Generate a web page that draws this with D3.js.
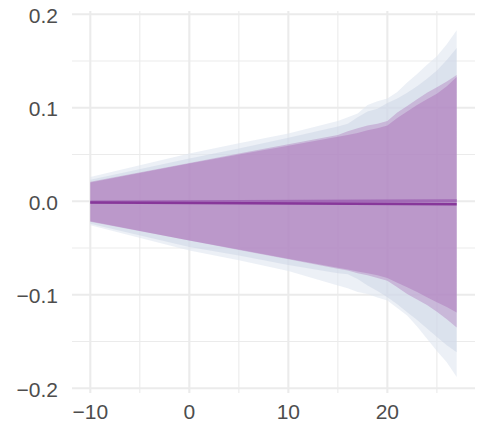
<!DOCTYPE html>
<html>
<head>
<meta charset="utf-8">
<script src="https://cdn.jsdelivr.net/npm/d3@7"></script>
<style>
  html, body { margin: 0; padding: 0; background: #ffffff; }
  svg { display: block; }
</style>
</head>
<body>
<svg id="chart" width="478" height="430"></svg>
<script>
// ---- data ----
const xs = [-10, 0, 5, 10, 15, 16, 17, 18, 19, 20, 21, 22, 23, 24, 25, 26, 27];

// outermost light blue-grey band
const lightLo = [-0.0257, -0.0525, -0.063, -0.0745, -0.090, -0.093, -0.097, -0.099, -0.103, -0.106, -0.114, -0.122, -0.134, -0.147, -0.160, -0.172, -0.188];
const lightHi = [0.026, 0.051, 0.062, 0.0725, 0.086, 0.090, 0.094, 0.103, 0.107, 0.110, 0.117, 0.127, 0.136, 0.146, 0.155, 0.168, 0.183];

// medium blue-grey band
const midLo = [-0.024, -0.049, -0.058, -0.068, -0.077, -0.078, -0.083, -0.090, -0.096, -0.1025, -0.110, -0.1186, -0.127, -0.136, -0.145, -0.154, -0.1615];
const midHi = [0.023, 0.0457, 0.0565, 0.068, 0.080, 0.083, 0.090, 0.096, 0.099, 0.105, 0.110, 0.116, 0.123, 0.131, 0.140, 0.151, 0.164];

// outer purple band
const purOutLo = [-0.022, -0.042, -0.052, -0.062, -0.072, -0.074, -0.077, -0.079, -0.082, -0.085, -0.092, -0.099, -0.105, -0.111, -0.118, -0.126, -0.135];
const purOutHi = [0.021, 0.041, 0.051, 0.061, 0.071, 0.075, 0.078, 0.081, 0.083, 0.086, 0.095, 0.102, 0.109, 0.116, 0.122, 0.128, 0.135];

// inner purple band
const purInLo = [-0.0214, -0.0418, -0.0515, -0.0615, -0.071, -0.073, -0.075, -0.077, -0.079, -0.082, -0.087, -0.092, -0.097, -0.1025, -0.108, -0.113, -0.119];
const purInHi = [0.020, 0.0404, 0.050, 0.0595, 0.069, 0.071, 0.073, 0.076, 0.078, 0.081, 0.089, 0.096, 0.103, 0.109, 0.115, 0.123, 0.133];

// central estimate lines
const lineX = [-10, 27];
const lineA = [-0.0008, 0.0007];
const lineB = [-0.0013, -0.0032];

// ticks
const xMajor = [-10, 0, 10, 20];
const xMinor = [-5, 5, 15, 25];
const yMajor = [-0.2, -0.1, 0.0, 0.1, 0.2];
const yMinor = [-0.15, -0.05, 0.05, 0.15];

// ---- drawing ----
const svg = d3.select("#chart");
const x = d3.scaleLinear().domain([-11.85, 28.85]).range([72, 475]);
const y = d3.scaleLinear().domain([-0.205, 0.2035]).range([393, 11]);

const grid = svg.append("g");
const gridCol = "#ebebeb";
grid.selectAll("line.ymin").data(yMinor).join("line")
  .attr("x1", x.range()[0]).attr("x2", x.range()[1])
  .attr("y1", d => y(d)).attr("y2", d => y(d))
  .attr("stroke", gridCol).attr("stroke-width", 1.1);
grid.selectAll("line.xmin").data(xMinor).join("line")
  .attr("y1", y.range()[0]).attr("y2", y.range()[1])
  .attr("x1", d => x(d)).attr("x2", d => x(d))
  .attr("stroke", gridCol).attr("stroke-width", 1.1);
grid.selectAll("line.ymaj").data(yMajor).join("line")
  .attr("x1", x.range()[0]).attr("x2", x.range()[1])
  .attr("y1", d => y(d)).attr("y2", d => y(d))
  .attr("stroke", gridCol).attr("stroke-width", 2.1);
grid.selectAll("line.xmaj").data(xMajor).join("line")
  .attr("y1", y.range()[0]).attr("y2", y.range()[1])
  .attr("x1", d => x(d)).attr("x2", d => x(d))
  .attr("stroke", gridCol).attr("stroke-width", 2.1);

function band(lo, hi, fill, op) {
  const data = xs.map((xv, i) => ({x: xv, lo: lo[i], hi: hi[i]}));
  const area = d3.area().x(d => x(d.x)).y0(d => y(d.lo)).y1(d => y(d.hi));
  svg.append("path").datum(data).attr("d", area)
    .attr("fill", fill).attr("fill-opacity", op);
}
band(lightLo, lightHi, "#dfe6f0", 0.6);
band(midLo, midHi, "#c8d0e2", 0.45);
band(purOutLo, purOutHi, "#a055ac", 0.3);
band(purInLo, purInHi, "#a055ac", 0.32);

function line(vals, col, w) {
  const data = lineX.map((xv, i) => ({x: xv, v: vals[i]}));
  svg.append("path").datum(data)
    .attr("d", d3.line().x(d => x(d.x)).y(d => y(d.v)))
    .attr("fill", "none").attr("stroke", col).attr("stroke-width", w);
}
line(lineA, "#a26ab6", 3);
line(lineB, "#87379a", 2.6);

const fmtY = d3.format(".1f");
const fmtX = d3.format("d");
svg.append("g").selectAll("text").data(yMajor).join("text")
  .attr("x", 58).attr("y", d => y(d) + 1)
  .attr("text-anchor", "end").attr("dominant-baseline", "central")
  .attr("font-family", "Liberation Sans, Arial, sans-serif").attr("font-size", 21)
  .attr("fill", "#4d4d4d").text(d => fmtY(d));
svg.append("g").selectAll("text").data(xMajor).join("text")
  .attr("x", d => x(d)).attr("y", 411)
  .attr("text-anchor", "middle").attr("dominant-baseline", "central")
  .attr("font-family", "Liberation Sans, Arial, sans-serif").attr("font-size", 21)
  .attr("fill", "#4d4d4d").text(d => fmtX(d));
</script>
</body>
</html>
